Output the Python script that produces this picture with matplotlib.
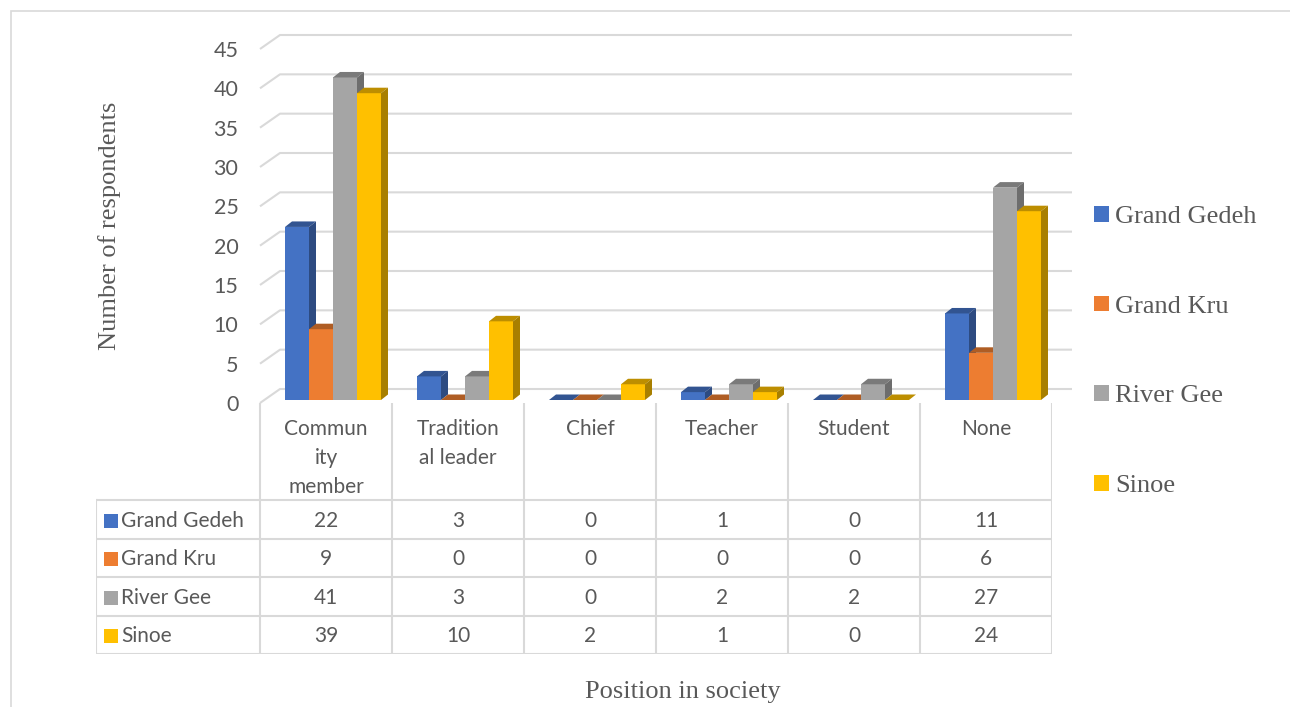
import numpy as np
import matplotlib
matplotlib.use("Agg")
import matplotlib.pyplot as plt
from matplotlib.patches import Polygon, Rectangle, Patch

categories = ["Community member", "Traditional leader", "Chief", "Teacher", "Student", "None"]
# Excel wraps the long labels inside the narrow table cells
category_labels = ["Commun\nity\nmember", "Tradition\nal leader", "Chief", "Teacher", "Student", "None"]
series = ["Grand Gedeh", "Grand Kru", "River Gee", "Sinoe"]
grand_gedeh = [22, 3, 0, 1, 0, 11]
grand_kru = [9, 0, 0, 0, 0, 6]
river_gee = [41, 3, 0, 2, 2, 27]
sinoe = [39, 10, 2, 1, 0, 24]
y_ticks = [0, 5, 10, 15, 20, 25, 30, 35, 40, 45]

values = [grand_gedeh, grand_kru, river_gee, sinoe]
colors = ["#4472C4", "#ED7D31", "#A5A5A5", "#FFC000"]

TEXT = "#595959"
GRID = "#D9D9D9"
SERIF = "Liberation Serif"
plt.rcParams["font.family"] = ["Lato", "DejaVu Sans"]

W, H = 1290, 707


def fx(px):
    return px / W


def fy(py):
    return 1 - py / H


def shade(c, f):
    r, g, b = matplotlib.colors.to_rgb(c)
    return (r * f, g * f, b * f)


fig = plt.figure(figsize=(W / 100, H / 100), dpi=100)

# chart border
fig.add_artist(Rectangle((fx(11), -0.02), 1.05, fy(11) + 0.02, transform=fig.transFigure,
                         fill=False, edgecolor=GRID, lw=1.2))

ax = fig.add_axes([fx(260), fy(403), 792 / W, 354 / H])
ax.set_xlim(-0.5, 5.5)
ax.set_ylim(0, 45)
for s in ax.spines.values():
    s.set_visible(False)
ax.set_xticks([])
ax.set_yticks(y_ticks)
ax.tick_params(axis="y", length=0, pad=15.5, labelsize=15.5, labelcolor=TEXT)

px_x = 1 / 132.0        # data units per pixel, x
px_y = 45 / 354.0       # data units per pixel, y

# back wall and side wall gridlines
wdx, wdy = 20 * px_x, 14 * px_y
for v in y_ticks:
    ax.plot([-0.5, -0.5 + wdx, 5.5 + wdx], [v, v + wdy, v + wdy], color=GRID, lw=1.5,
            clip_on=False, zorder=1, solid_capstyle="butt")

# 3d-looking columns
bw = 24 * px_x
start = 25 * px_x
ddx, ddy = 7 * px_x, 5.5 * px_y
base = 3 * px_y
xs = np.arange(len(categories))
for j, (vals, c) in enumerate(zip(values, colors)):
    x0 = xs - 0.5 + start + j * bw
    ax.bar(x0, vals, width=bw, bottom=base, align="edge", color=c, lw=0, zorder=3 + j,
           clip_on=False)
    for xl, v in zip(x0, vals):
        top = base + v
        xr = xl + bw
        ax.add_patch(Polygon([(xl, top), (xr, top), (xr + ddx, top + ddy), (xl + ddx, top + ddy)],
                             closed=True, facecolor=shade(c, 0.74), lw=0, zorder=3 + j, clip_on=False))
        if v > 0:
            ax.add_patch(Polygon([(xr, base), (xr + ddx, base + ddy), (xr + ddx, top + ddy), (xr, top)],
                                 closed=True, facecolor=shade(c, 0.66), lw=0, zorder=3 + j,
                                 clip_on=False))

# data table
row_h = 38.5
head_h = 97
left_w = 164 * px_x
tab = fig.add_axes([fx(96), fy(654), (1052 - 96) / W, (654 - 403) / H])
tab.set_xlim(-0.5 - left_w, 5.5)
tab.set_ylim(head_h + 4 * row_h, 0)
tab.axis("off")
x_left = -0.5 - left_w
for k in range(5):
    yk = head_h + k * row_h
    tab.plot([x_left, 5.5], [yk, yk], color=GRID, lw=1.5, solid_capstyle="projecting")
tab.plot([x_left, x_left], [head_h, head_h + 4 * row_h], color=GRID, lw=1.5)
for b in np.arange(-0.5, 6.0, 1.0):
    tab.plot([b, b], [1, head_h + 4 * row_h], color=GRID, lw=1.5)

for i, lab in enumerate(category_labels):
    tab.text(i, 16, lab, ha="center", va="top", fontsize=15, color=TEXT, linespacing=1.55)

for r, (name, vals, c) in enumerate(zip(series, values, colors)):
    yc = head_h + (r + 0.5) * row_h + 1.5
    tab.plot([x_left + 14.5 * px_x], [yc], marker="s", ms=9.5, color=c, mew=0)
    tab.text(x_left + 25 * px_x, yc, name, ha="left", va="center", fontsize=15, color=TEXT)
    for i, v in enumerate(vals):
        tab.text(i, yc, str(v), ha="center", va="center", fontsize=15, color=TEXT)

# axis titles
fig.text(fx(110), fy(226), "Number of respondents", rotation=90, ha="center", va="center",
         family=SERIF, fontsize=19, color=TEXT)
fig.text(fx(683), fy(692), "Position in society", ha="center", va="center",
         family=SERIF, fontsize=19, color=TEXT)

handles = [Patch(facecolor=c, edgecolor="none") for c in colors]
fig.legend(handles, series, loc="upper left", bbox_to_anchor=(fx(1094), fy(206)), frameon=False,
           prop={"family": SERIF, "size": 19}, labelcolor=TEXT, handlelength=0.55,
           handleheight=0.55, handletextpad=0.25, labelspacing=2.55, borderpad=0, borderaxespad=0)

fig.savefig("out.png", dpi=100)
